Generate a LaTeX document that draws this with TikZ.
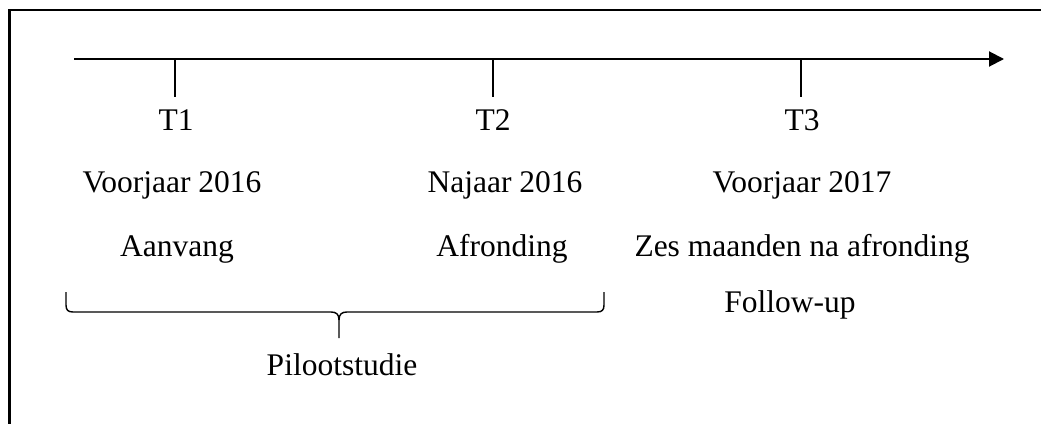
\documentclass[tikz,border=0pt]{standalone}
\usepackage{fontspec}
\setmainfont{Liberation Serif}
\usetikzlibrary{arrows.meta}
\begin{document}
\begin{tikzpicture}[x=1pt,y=-1pt,
  lbl/.style={anchor=base,inner sep=0pt,font=\fontsize{31.5}{38}\selectfont},
  axisline/.style={line width=2pt,-{Triangle[length=15pt,width=15pt]}},
  tickline/.style={line width=2pt},
  framel/.style={line width=2.6pt},
  bracel/.style={line width=1.4pt}]
\useasboundingbox (0,0) rectangle (1041,423);
\clip (0,0) rectangle (1041,423);
% frame (only left and top visible)
\draw[framel] (9.5,440) -- (9.5,10) -- (1060,10);
% axis
\coordinate (axs) at (74,59);
\coordinate (axe) at (1004,59);
\draw[axisline] (axs) -- (axe);
% ticks
\coordinate (k1) at (175,59); \coordinate (k1b) at (175,97);
\coordinate (k2) at (493,59); \coordinate (k2b) at (493,97);
\coordinate (k3) at (801,59); \coordinate (k3b) at (801,97);
\draw[tickline] (k1) -- (k1b);
\draw[tickline] (k2) -- (k2b);
\draw[tickline] (k3) -- (k3b);
% labels
\node[lbl] (t1) at (176,130) {T1};
\node[lbl] (d1) at (172,192) {Voorjaar 2016};
\node[lbl] (a1) at (177,256) {Aanvang};
\node[lbl] (t2) at (493,130) {T2};
\node[lbl] (d2) at (505,192) {Najaar 2016};
\node[lbl] (a2) at (502,256) {Afronding};
\node[lbl] (t3) at (802,130) {T3};
\node[lbl] (d3) at (802,192) {Voorjaar 2017};
\node[lbl] (a3) at (802,256) {Zes maanden na afronding};
\node[lbl] (f3) at (790,312) {Follow-up};
\node[lbl] (pil) at (342,375) {Pilootstudie};
% brace
\coordinate (bl) at (66,292);
\coordinate (br) at (604,292);
\coordinate (bt) at (339,338);
\draw[bracel] (bl) -- (66,305) .. controls (66,310) and (68,312) .. (73,312)
  -- (331,312) .. controls (336,312) and (339,314) .. (339,320) -- (bt);
\draw[bracel] (br) -- (604,305) .. controls (604,310) and (602,312) .. (597,312)
  -- (347,312) .. controls (342,312) and (339,314) .. (339,320);
\end{tikzpicture}
\end{document}
